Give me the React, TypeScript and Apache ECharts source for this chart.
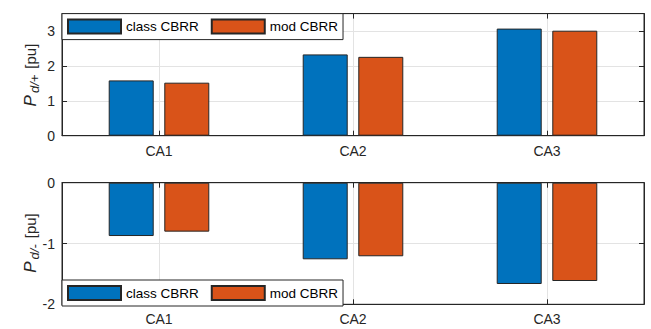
import React, { useEffect, useRef } from "react";
import * as echarts from "echarts";

const categories = ["CA1", "CA2", "CA3"];
const seriesNames = ["class CBRR", "mod CBRR"];
const posClass = [1.585, 2.33, 3.07];
const posMod = [1.52, 2.26, 3.01];
const negClass = [-0.877, -1.26, -1.666];
const negMod = [-0.805, -1.21, -1.617];
const posTicks = [0, 1, 2, 3];
const negTicks = [-2, -1, 0];
const yNames = ["{pp|P}{ss|d/+}{uu|[pu]}", "{pp|P}{ss|d/-}{uu|[pu]}"];

const BLUE = "#0072BD";
const ORANGE = "#D95319";
const DARK = "#262626";
const FONT = "Liberation Sans, Arial, Helvetica, sans-serif";

export default function App() {
  const ref = useRef<HTMLDivElement>(null);
  useEffect(() => {
    if (!ref.current) return;
    const chart = echarts.init(ref.current, undefined, { renderer: "svg" });

    const gridTop = { left: 62, width: 582, top: 13.6, height: 122.1, show: true, borderColor: DARK, borderWidth: 1, backgroundColor: "#fff" };
    const gridBot = { left: 62, width: 582, top: 182.7, height: 121.6, show: true, borderColor: DARK, borderWidth: 1, backgroundColor: "#fff" };

    const xAxisBase = (gridIndex: number, position: string, showLabel: boolean) => ({
      type: "category",
      data: categories,
      gridIndex,
      position,
      boundaryGap: true,
      axisLine: { show: true, onZero: false, lineStyle: { color: DARK, width: 1 } },
      axisTick: { show: true, inside: true, alignWithLabel: true, length: 5, lineStyle: { color: DARK } },
      axisLabel: { show: showLabel, color: DARK, fontSize: 14, fontFamily: FONT, margin: 8 },
      splitLine: { show: showLabel, alignWithLabel: true, lineStyle: { color: "#e3e3e3", width: 1 } },
    });

    const yAxisBase = (gridIndex: number, position: string, min: number, max: number, ticks: number[], main: boolean) => ({
      type: "value",
      gridIndex,
      position,
      min,
      max,
      interval: 1,
      axisLine: { show: true, lineStyle: { color: DARK, width: 1 } },
      axisTick: { show: true, inside: true, length: 5, lineStyle: { color: DARK } },
      axisLabel: {
        show: main,
        color: DARK,
        fontSize: 14,
        fontFamily: FONT,
        margin: 7,
        formatter: (v: number) => (ticks.includes(v) ? String(v) : ""),
      },
      splitLine: { show: main, lineStyle: { color: "#e3e3e3", width: 1 } },
    });

    const barStyle = (color: string) => ({ color, borderColor: DARK, borderWidth: 1 });

    const legendBase = (top: number) => ({
      left: 62,
      top,
      orient: "horizontal",
      data: seriesNames,
      backgroundColor: "#fff",
      borderColor: DARK,
      borderWidth: 1,
      padding: [5, 5, 5, 5],
      itemWidth: 53,
      itemHeight: 14,
      itemGap: 12,
      icon: "rect",
      selectedMode: false,
      textStyle: { color: "#000", fontSize: 13.5, fontFamily: FONT },
    });

    const rich = {
      pp: { fontSize: 17, fontStyle: "italic", fill: DARK, fontFamily: FONT },
      ss: { fontSize: 13, fill: DARK, fontFamily: FONT, fontStyle: "italic", padding: [9, 3, 0, 2] },
      uu: { fontSize: 15, fill: DARK, fontFamily: FONT, padding: [0, 0, 0, 3] },
    };

    const nameText = (y: number, text: string) => ({
      type: "text",
      x: 30,
      y,
      rotation: Math.PI / 2,
      style: {
        text,
        rich,
        fill: DARK,
        fontFamily: FONT,
        fontSize: 15,
        align: "center",
        verticalAlign: "middle",
      },
    });

    chart.setOption({
      animation: false,
      grid: [gridTop, gridBot],
      legend: [legendBase(13.6), legendBase(280)],
      graphic: [nameText(75, yNames[0]), nameText(243, yNames[1])],
      xAxis: [
        xAxisBase(0, "bottom", true),
        xAxisBase(0, "top", false),
        xAxisBase(1, "bottom", true),
        xAxisBase(1, "top", false),
      ],
      yAxis: [
        yAxisBase(0, "left", 0, 3.5, posTicks, true),
        yAxisBase(0, "right", 0, 3.5, posTicks, false),
        yAxisBase(1, "left", -2, 0, negTicks, true),
        yAxisBase(1, "right", -2, 0, negTicks, false),
      ],
      series: [
        { name: seriesNames[0], type: "bar", xAxisIndex: 0, yAxisIndex: 0, data: posClass, barWidth: 45, barGap: "23.5%", itemStyle: barStyle(BLUE) },
        { name: seriesNames[1], type: "bar", xAxisIndex: 0, yAxisIndex: 0, data: posMod, barWidth: 45, barGap: "23.5%", itemStyle: barStyle(ORANGE) },
        { name: seriesNames[0], type: "bar", xAxisIndex: 2, yAxisIndex: 2, data: negClass, barWidth: 45, barGap: "23.5%", itemStyle: barStyle(BLUE) },
        { name: seriesNames[1], type: "bar", xAxisIndex: 2, yAxisIndex: 2, data: negMod, barWidth: 45, barGap: "23.5%", itemStyle: barStyle(ORANGE) },
      ],
    });
    return () => chart.dispose();
  }, []);

  return (
    <div
      ref={ref}
      style={{ position: "fixed", left: 0, top: 0, width: 651, height: 329, background: "#fff" }}
    />
  );
}
